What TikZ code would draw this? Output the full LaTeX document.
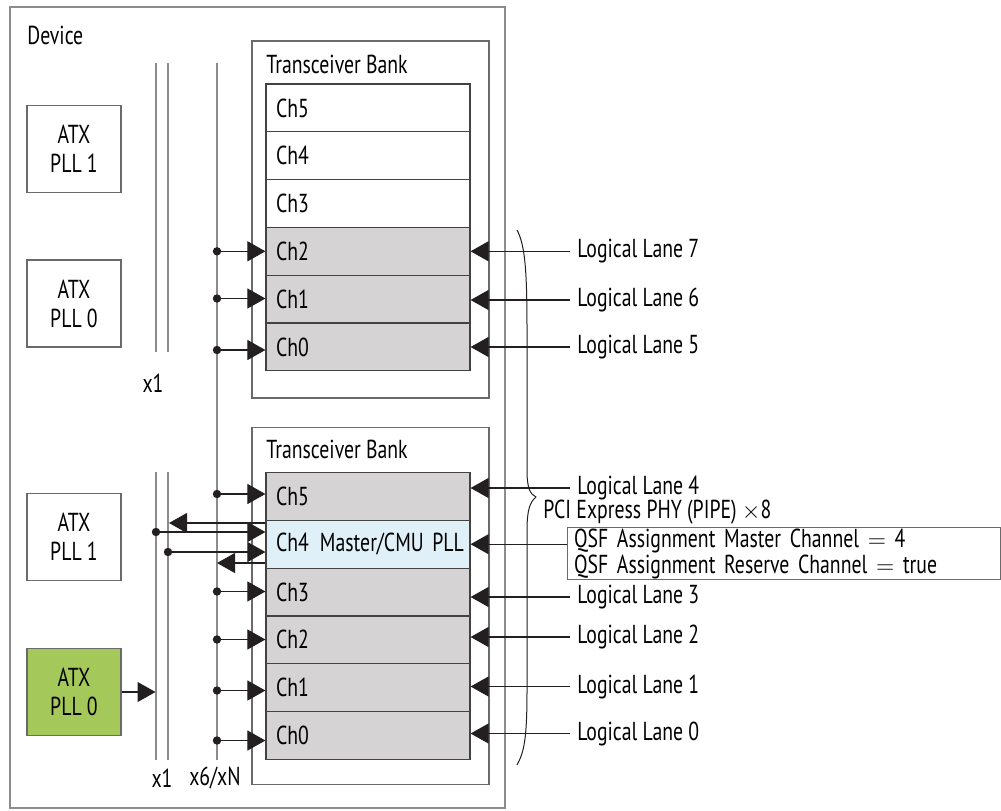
\documentclass[tikz,border=0pt]{standalone}
\usepackage{fontspec}
\setmainfont{PT Sans}[FakeStretch=0.76]
\usepackage{xcolor}
\usetikzlibrary{arrows.meta}
\definecolor{chgray}{HTML}{D5D3D4}
\definecolor{chblue}{HTML}{DFF0F8}
\definecolor{pllgreen}{HTML}{A5C85A}
\definecolor{busgray}{HTML}{8C8C8C}
\definecolor{boxgray}{HTML}{6A6A6A}
\definecolor{tipblack}{HTML}{231F20}

\begin{document}
\begin{tikzpicture}[x=0.5pt, y=-0.5pt, font=\fontsize{13}{15}\selectfont,
  outer/.style={draw=busgray, line width=0.7pt, inner sep=0pt},
  bank/.style={draw=boxgray, line width=0.6pt, minimum width=118.5pt, minimum height=178.5pt, inner sep=0pt},
  chan/.style={draw=tipblack!85, line width=0.6pt, minimum width=102pt, minimum height=23.9pt, text width=92pt, inner xsep=5pt, inner ysep=0pt, align=left},
  pll/.style={draw=boxgray, line width=0.6pt, minimum width=47pt, minimum height=43.5pt, inner sep=0pt, align=center, font=\fontsize{13}{14.5}\selectfont},
  bus/.style={draw=busgray, line width=0.9pt},
  conn/.style={draw=tipblack, line width=0.55pt, -{Triangle[length=9pt, width=10pt]}},
  lane/.style={anchor=west, inner sep=0pt, inner xsep=3.5pt},
  dot/.style={fill=tipblack}]
  \useasboundingbox (0,0) rectangle (1001,810);

  % device and banks
  \node[outer, minimum width=247.5pt, minimum height=400.5pt] (device) at (257.5,407.5) {};
  \node[anchor=west, inner sep=0pt] (devlbl) at (27,35) {Device};
  \node[bank] (ubank) at (370.5,219.5) {};
  \node[bank] (lbank) at (370.5,606) {};
  \node[anchor=west, inner sep=0pt] (ubanklbl) at (266,64) {Transceiver Bank};
  \node[anchor=west, inner sep=0pt] (lbanklbl) at (266,449) {Transceiver Bank};

  % channels
  \foreach \i in {0,1,2} {
    \node[chan, fill=chgray] (u\i) at (368,346.9-47.8*\i) {Ch\i};
  }
  \foreach \i in {3,4,5} {
    \node[chan, fill=white] (u\i) at (368,346.9-47.8*\i) {Ch\i};
  }
  \foreach \i in {0,1,2,3,5} {
    \node[chan, fill=chgray] (l\i) at (368,735.4-47.8*\i) {Ch\i};
  }
  \node[chan, fill=chblue] (l4) at (368,544.2) {\mbox{\makebox[22pt][l]{Ch4}Master/CMU PLL}};

  % ATX PLLs
  \node[pll] (upll1) at (74,149) {ATX\\PLL 1};
  \node[pll] (upll0) at (74,303.5) {ATX\\PLL 0};
  \node[pll] (lpll1) at (74,537) {ATX\\PLL 1};
  \node[pll, fill=pllgreen] (lpll0) at (74,692) {ATX\\PLL 0};

  % clock lines
  \draw[bus] (156,63) -- (156,352);
  \draw[bus] (168,63) -- (168,352);
  \draw[bus] (156,472) -- (156,760);
  \draw[bus] (168,472) -- (168,760);
  \draw[bus] (217,63) -- (217,760);
  \node[inner sep=0pt] (x1u) at (153,383) {x1};
  \node[inner sep=0pt] (x1l) at (162,778) {x1};
  \node[inner sep=0pt] (x6l) at (215,778) {x6/xN};

  % x6/xN taps
  \foreach \n/\y in {u2/251.3, u1/298.5, u0/350, l5/494, l3/591.5, l2/639.5, l1/690.5, l0/740.5} {
    \coordinate (t\n) at (217,\y);
    \fill[dot] (t\n) circle[radius=2.1pt];
    \draw[conn] (t\n) -- (t\n -| \n.west);
  }

  % master channel
  \coordinate (m1) at (156,532);
  \coordinate (m2) at (168,552);
  \coordinate (m3) at (169,523);
  \coordinate (m4) at (217,563);
  \fill[dot] (m1) circle[radius=2.1pt];
  \fill[dot] (m2) circle[radius=2.1pt];
  \draw[conn] (m1) -- (m1 -| l4.west);
  \draw[conn] (m2) -- (m2 -| l4.west);
  \draw[conn] (m3 -| l4.west) -- (m3);
  \draw[conn] (m4 -| l4.west) -- (m4);
  \coordinate (g0) at (155.5,692);
  \draw[conn] (lpll0.east) -- (g0);

  % logical lanes
  \foreach \n/\k/\y in {u2/7/251.3, u1/6/300, u0/5/347, l5/4/488, l3/3/597, l2/2/637, l1/1/686.5, l0/0/733.5} {
    \node[lane] (ll\k) at (570,\y) {Logical Lane \k};
    \draw[conn] (ll\k.west) -- (ll\k.west -| \n.east);
  }
  \node[draw=boxgray, line width=0.6pt, anchor=north west, minimum width=216.5pt, minimum height=26pt, text width=210pt, inner xsep=3pt, inner ysep=0pt, align=left, font=\fontsize{13}{11}\selectfont] (qsf) at (567,527) {QSF Assignment Master Channel $=$ 4\\QSF Assignment Reserve Channel $=$ true};
  \draw[conn] (qsf.north west |- l4.east) -- (l4.east);

  % brace
  \draw[tipblack, line width=0.5pt] (517,230) .. controls (525,245) and (527,270) .. (527,330) -- (527,470) .. controls (527,488) and (530,494) .. (536,497) .. controls (530,502) and (527,510) .. (527,530) -- (527,690) .. controls (527,740) and (524,752) .. (517,765);
  \node[anchor=west, inner sep=0pt] (pcie) at (543,512.5) {PCI Express PHY (PIPE) $\times$8};
\end{tikzpicture}
\end{document}
